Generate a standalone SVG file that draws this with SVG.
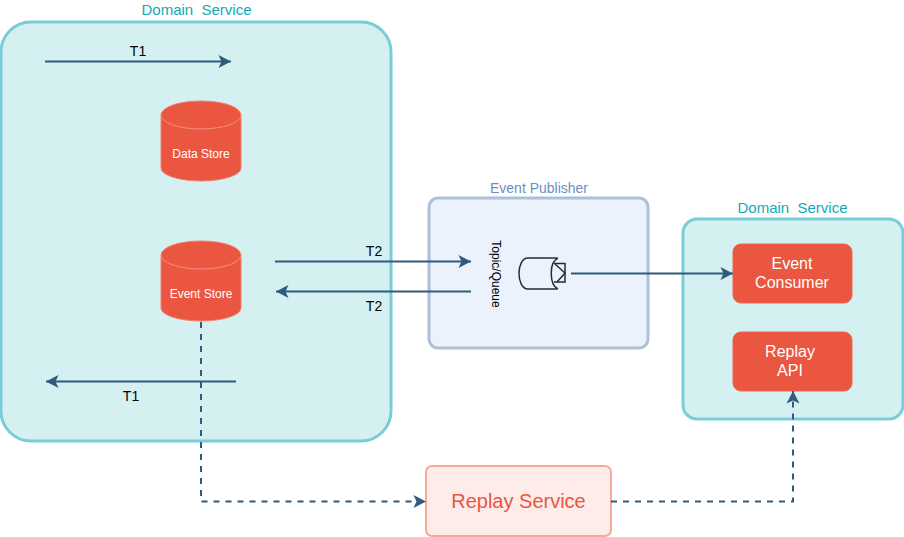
<svg xmlns="http://www.w3.org/2000/svg" width="904" height="537" viewBox="0 0 904 537">
<style>
text{font-family:"Liberation Sans",Arial,sans-serif;text-anchor:middle}
.dom{fill:#d5f0f1;stroke:#7acdd8;stroke-width:3}
.title{font-size:15px;fill:#12aab5}
.db{fill:#ea5640;stroke:#f27f6e;stroke-width:1}
.dbl{fill:none;stroke:#f58f80;stroke-width:1}
.dbt{font-size:12px;fill:#fff}
.red{fill:#ea5640;stroke:#ee6550;stroke-width:1}
.wt{font-size:16px;fill:#fff}
.lbl{font-size:14px;fill:#000}
.con{fill:none;stroke:#2f5b7c;stroke-width:2}
.dash{stroke-dasharray:6 6}
</style>
<defs>
<marker id="arr" markerUnits="userSpaceOnUse" markerWidth="15" markerHeight="15" refX="13" refY="7" orient="auto"><path d="M0.500 0.500 L13 7 L0.500 13.500 L3.500 7Z" fill="#2f5b7c"/></marker>
</defs>
<g id="domain-left">
<rect class="dom" x="1" y="22" width="390" height="419" rx="30"/>
<text class="title" x="196.500" y="15">Domain&#160; Service</text>
</g>
<g id="data-store">
<path class="db" d="M161 115 A40 14 0 0 1 241 115 V168 A40 13 0 0 1 161 168Z"/>
<path class="dbl" d="M161 115 A40 14 0 0 0 241 115"/>
<text class="dbt" x="201" y="158">Data Store</text>
</g>
<g id="event-store">
<path class="db" d="M161 255 A40 14 0 0 1 241 255 V308 A40 13 0 0 1 161 308Z"/>
<path class="dbl" d="M161 255 A40 14 0 0 0 241 255"/>
<text class="dbt" x="201" y="298">Event Store</text>
</g>
<g id="event-publisher">
<rect x="429" y="198" width="219" height="150" rx="9" fill="#ebf2fb" stroke="#aebfd8" stroke-width="3"/>
<text x="539" y="193" fill="#6c8ebf" style="font-size:14px">Event Publisher</text>
<text transform="translate(492 274) rotate(90)" style="font-size:12px" fill="#000">Topic/Queue</text>
<g fill="none" stroke="#1f2d3d" stroke-width="1.5">
<path d="M557 258 H528 C516 258 516 289 528 289 H557"/>
<path d="M558 258 C549 262 549 285 558 289"/>
<path d="M554 263.500 H565 V282 H554"/>
<path d="M555 264 L565 273 L557 282"/>
</g>
</g>
<g id="domain-right">
<rect class="dom" x="683" y="219" width="220" height="200" rx="14"/>
<text class="title" x="792.500" y="213">Domain&#160; Service</text>
</g>
<g id="event-consumer">
<rect class="red" x="733" y="244" width="119" height="59" rx="8"/>
<text class="wt" x="792" y="269">Event</text>
<text class="wt" x="792" y="288">Consumer</text>
</g>
<g id="replay-api">
<rect class="red" x="733" y="332" width="119" height="59" rx="8"/>
<text class="wt" x="790" y="357">Replay</text>
<text class="wt" x="790" y="376">API</text>
</g>
<g id="replay-service">
<rect x="426" y="466" width="185" height="70" rx="6" fill="#fdecea" stroke="#f8a89b" stroke-width="2"/>
<text x="518.500" y="508" style="font-size:20px" fill="#ea5640">Replay Service</text>
</g>
<g id="connectors">
<path class="con" marker-end="url(#arr)" d="M45 61.500 H231"/>
<path class="con" marker-end="url(#arr)" d="M236 381.500 H46"/>
<path class="con" marker-end="url(#arr)" d="M275 261.500 H471"/>
<path class="con" marker-end="url(#arr)" d="M471 291.500 H276"/>
<path class="con" marker-end="url(#arr)" d="M571 273.500 H733"/>
<path class="con dash" marker-end="url(#arr)" d="M201 322 V501.500 H426"/>
<path class="con dash" marker-end="url(#arr)" d="M611 501.500 H793 V391"/>
<text class="lbl" x="138" y="56">T1</text>
<text class="lbl" x="131" y="401">T1</text>
<text class="lbl" x="374" y="256">T2</text>
<text class="lbl" x="374" y="311">T2</text>
</g>
</svg>
